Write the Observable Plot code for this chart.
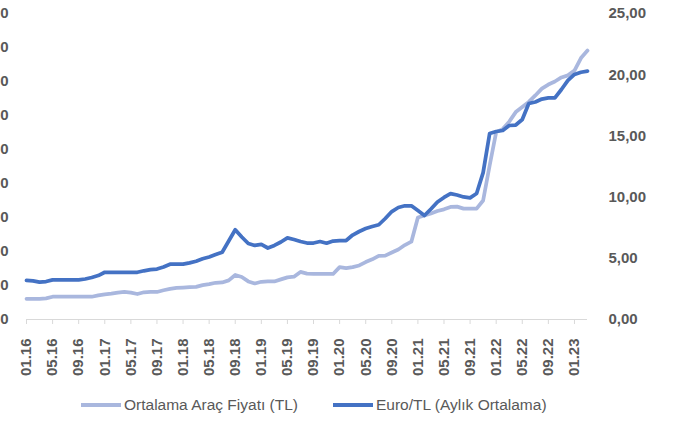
<!DOCTYPE html>
<html><head><meta charset="utf-8">
<script src="https://cdn.jsdelivr.net/npm/d3@7"></script>
<script src="https://cdn.jsdelivr.net/npm/@observablehq/plot@0.6"></script>
<style>
body{margin:0;background:#fff;font-family:"Liberation Sans",Arial,sans-serif;}
#chart{position:relative;width:673px;height:421px;overflow:hidden;}
.item{position:absolute;top:390px;height:30px;display:flex;align-items:center;font-size:15.5px;color:#595959;white-space:nowrap;}
.sw{display:inline-block;width:40px;height:4px;margin-right:3px;}
</style></head><body><div id="chart"></div>
<script>
// Monthly categories 01.16 .. 03.23
const months = [];
for (let y = 16; y <= 23; y++) for (let m = 1; m <= 12; m++) {
  if (y === 23 && m > 3) break;
  months.push(String(m).padStart(2, "0") + "." + y);
}
const tickLabels = ["01.16","05.16","09.16","01.17","05.17","09.17","01.18","05.18","09.18","01.19","05.19","09.19","01.20","05.20","09.20","01.21","05.21","09.21","01.22","05.22","09.22","01.23"];

// Ortalama Araç Fiyatı (TL) - left axis
const carPrice = [
  61000,61000,61000,62000,67000,67000,67000,67000,67000,67000,67000,71000,
  74000,76000,79000,81000,79000,75000,80000,81000,81000,86000,90000,93000,
  94000,95000,96000,101000,104000,108000,109000,115000,131000,125000,112000,106000,
  111000,112000,112000,118000,124000,126000,140000,135000,134000,134000,134000,134000,
  154000,151000,154000,159000,169000,177000,187000,188000,197000,206000,219000,229000,
  300000,306000,312000,319000,324000,331000,332000,326000,326000,326000,350000,453000,
  551000,560000,582000,610000,625000,640000,659000,679000,691000,700000,712000,718000,
  732000,769000,791000];

// Euro/TL (Aylık Ortalama) - right axis
const euroTL = [
  3.19,3.15,3.05,3.10,3.24,3.24,3.24,3.24,3.24,3.31,3.43,3.59,
  3.86,3.86,3.86,3.86,3.86,3.86,3.98,4.08,4.12,4.29,4.52,4.53,
  4.53,4.63,4.76,4.96,5.11,5.31,5.50,6.41,7.33,6.74,6.21,6.05,
  6.13,5.84,6.05,6.33,6.67,6.54,6.37,6.25,6.25,6.37,6.23,6.41,
  6.45,6.45,6.90,7.19,7.43,7.60,7.74,8.25,8.82,9.15,9.29,9.29,
  8.90,8.50,9.03,9.60,9.97,10.29,10.17,10.01,9.94,10.29,12.00,15.20,
  15.36,15.44,15.85,15.89,16.34,17.65,17.77,18.01,18.10,18.10,18.79,19.53,
  20.02,20.20,20.29];

const leftTicks = [0,100000,200000,300000,400000,500000,600000,700000,800000,900000];
const rightTicks = [0,5,10,15,20,25];

const leftMax = 900000, rightMax = 25;
const k = rightMax / leftMax;
const data = months.map((m, i) => ({i, m, car: carPrice[i], euro: euroTL[i]}));
const fmtTL = n => String(n).replace(/\B(?=(\d{3})+(?!\d))/g, ".");
const grey = "#595959";
const font = {fontSize: 15, fontWeight: "bold", fill: grey};

const plot = Plot.plot({
  width: 673, height: 390,
  marginLeft: 26, marginRight: 86, marginTop: 13, marginBottom: 71,
  x: {domain: [0, months.length - 1], axis: null},
  y: {domain: [0, rightMax], axis: null},
  style: {fontFamily: '"Liberation Sans", Arial, sans-serif', background: "#fff"},
  marks: [
    Plot.axisY({anchor: "left", ticks: leftTicks.map(t => t * k), tickSize: 0, tickPadding: 18, label: null,
      tickFormat: d => fmtTL(Math.round(d / k)), ...font}),
    Plot.axisY({anchor: "right", ticks: rightTicks, tickSize: 0, tickPadding: 21, label: null,
      tickFormat: d => d.toFixed(2).replace(".", ","), ...font}),
    Plot.ruleY([0], {stroke: "#d9d9d9", strokeWidth: 1}),
    Plot.axisX({ticks: tickLabels.map((_, j) => j * 4), tickSize: 5, tickPadding: 14, tickRotate: -90, label: null,
      stroke: "#d9d9d9", tickFormat: d => tickLabels[d / 4], ...font}),
    Plot.line(data, {x: "i", y: d => d.car * k, stroke: "#A9B7DE", strokeWidth: 3.75, strokeLinejoin: "round", strokeLinecap: "round"}),
    Plot.line(data, {x: "i", y: "euro", stroke: "#4472C4", strokeWidth: 3.75, strokeLinejoin: "round", strokeLinecap: "round"})
  ]
});
const chart = document.getElementById("chart");
chart.appendChild(plot);

const legend = [
  {label: "Ortalama Araç Fiyatı (TL)", color: "#A9B7DE", left: 81},
  {label: "Euro/TL (Aylık Ortalama)", color: "#4472C4", left: 333}
];
for (const l of legend) {
  const d = document.createElement("div");
  d.className = "item";
  d.style.left = l.left + "px";
  const s = document.createElement("span");
  s.className = "sw"; s.style.background = l.color;
  d.appendChild(s);
  d.appendChild(document.createTextNode(l.label));
  chart.appendChild(d);
}
</script></body></html>
